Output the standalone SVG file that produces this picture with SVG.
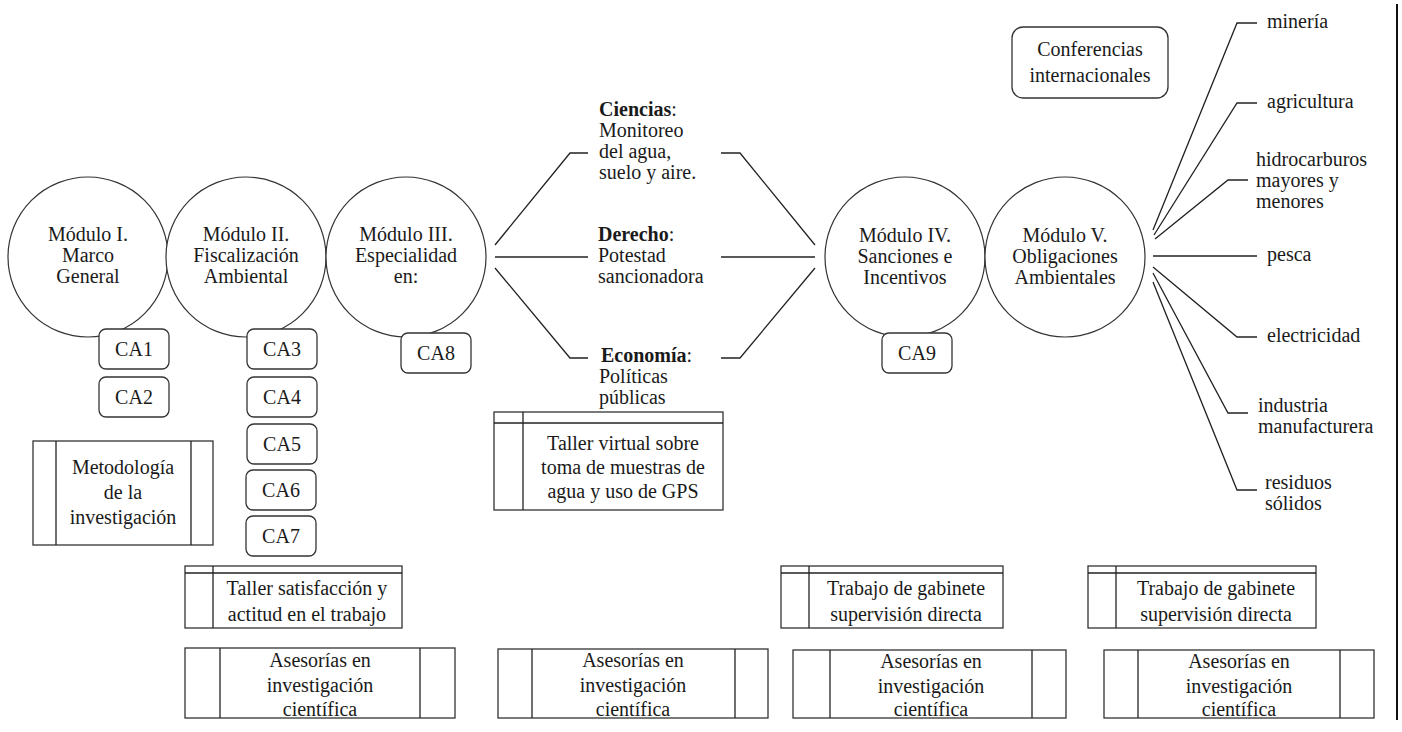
<svg xmlns="http://www.w3.org/2000/svg" width="1402" height="732" viewBox="0 0 1402 732">
<style>
text{font-family:"Liberation Serif","Times New Roman",serif;font-size:20px;fill:#1a1a1a}
.c{text-anchor:middle}
.b{font-weight:bold}
.circ{fill:#fff;stroke:#333;stroke-width:1.2}
.rb{fill:#fff;stroke:#333;stroke-width:1.3}
.sq{fill:#fff;stroke:#333;stroke-width:1.3}
.ln{fill:none;stroke:#222;stroke-width:1.3}
</style>
<rect width="1402" height="732" fill="#fff"/>

<g id="connectors">
<polyline class="ln" points="495,245 570,153 588,153"/>
<polyline class="ln" points="495,257 588,257"/>
<polyline class="ln" points="495,268 570,358 588,358"/>
<polyline class="ln" points="721,153 740,153 815,245"/>
<polyline class="ln" points="721,257 815,257"/>
<polyline class="ln" points="721,358 740,358 815,268"/>
<polyline class="ln" points="1153,230 1237,23 1257,23"/>
<polyline class="ln" points="1154,235 1237,103 1257,103"/>
<polyline class="ln" points="1155,239 1228,180 1248,180"/>
<polyline class="ln" points="1153,256 1257,256"/>
<polyline class="ln" points="1153,267 1237,337 1257,337"/>
<polyline class="ln" points="1153,273 1228,413 1248,413"/>
<polyline class="ln" points="1153,282 1237,490 1257,490"/>
<line x1="1397" y1="4" x2="1397" y2="720" stroke="#111" stroke-width="2"/>
</g>

<g id="mod1"><circle class="circ" cx="88" cy="257" r="80"/>
<text class="c" x="88" y="241">Módulo I.</text><text class="c" x="88" y="262">Marco</text><text class="c" x="88" y="283">General</text></g>
<g id="mod2"><circle class="circ" cx="246" cy="257" r="80"/>
<text class="c" x="246" y="241">Módulo II.</text><text class="c" x="246" y="262">Fiscalización</text><text class="c" x="246" y="283">Ambiental</text></g>
<g id="mod3"><circle class="circ" cx="406" cy="257" r="80"/>
<text class="c" x="406" y="241">Módulo III.</text><text class="c" x="406" y="262">Especialidad</text><text class="c" x="406" y="283">en:</text></g>
<g id="mod4"><circle class="circ" cx="905" cy="257" r="80"/>
<text class="c" x="905" y="242">Módulo IV.</text><text class="c" x="905" y="263">Sanciones e</text><text class="c" x="905" y="284">Incentivos</text></g>
<g id="mod5"><circle class="circ" cx="1065" cy="257" r="80"/>
<text class="c" x="1065" y="242">Módulo V.</text><text class="c" x="1065" y="263">Obligaciones</text><text class="c" x="1065" y="284">Ambientales</text></g>

<g id="ca1"><rect class="rb" x="99" y="329" width="70" height="40" rx="7"/><text class="c" x="134" y="356">CA1</text></g>
<g id="ca2"><rect class="rb" x="99" y="377" width="70" height="40" rx="7"/><text class="c" x="134" y="404">CA2</text></g>
<g id="ca3"><rect class="rb" x="247" y="329" width="70" height="40" rx="7"/><text class="c" x="282" y="356">CA3</text></g>
<g id="ca4"><rect class="rb" x="247" y="377" width="70" height="40" rx="7"/><text class="c" x="282" y="404">CA4</text></g>
<g id="ca5"><rect class="rb" x="247" y="424" width="70" height="40" rx="7"/><text class="c" x="282" y="451">CA5</text></g>
<g id="ca6"><rect class="rb" x="246" y="470" width="70" height="40" rx="7"/><text class="c" x="281" y="497">CA6</text></g>
<g id="ca7"><rect class="rb" x="246" y="516" width="70" height="40" rx="7"/><text class="c" x="281" y="543">CA7</text></g>
<g id="ca8"><rect class="rb" x="401" y="333" width="70" height="40" rx="7"/><text class="c" x="436" y="360">CA8</text></g>
<g id="ca9"><rect class="rb" x="882" y="333" width="70" height="40" rx="7"/><text class="c" x="917" y="360">CA9</text></g>

<g id="conf"><rect class="rb" x="1012" y="27" width="156" height="71" rx="11"/>
<text class="c" x="1090" y="56">Conferencias</text><text class="c" x="1090" y="82">internacionales</text></g>

<g id="metodo"><rect class="sq" x="33" y="441" width="180" height="104"/>
<line class="ln" x1="56" y1="441" x2="56" y2="545"/><line class="ln" x1="191" y1="441" x2="191" y2="545"/>
<text class="c" x="123" y="474">Metodología</text><text class="c" x="123" y="499">de la</text><text class="c" x="123" y="524">investigación</text></g>

<g id="ciencias"><text x="599" y="116"><tspan class="b">Ciencias</tspan>:</text>
<text x="599" y="137">Monitoreo</text><text x="599" y="158">del agua,</text><text x="599" y="179">suelo y aire.</text></g>
<g id="derecho"><text x="598" y="241"><tspan class="b">Derecho</tspan>:</text>
<text x="598" y="262">Potestad</text><text x="598" y="283">sancionadora</text></g>
<g id="economia"><text x="601" y="362"><tspan class="b">Economía</tspan>:</text>
<text x="599" y="383">Políticas</text><text x="599" y="404">públicas</text></g>

<g id="taller-virtual"><rect class="sq" x="494" y="412" width="229" height="98"/>
<line class="ln" x1="494" y1="423" x2="723" y2="423"/><line class="ln" x1="523" y1="412" x2="523" y2="510"/>
<text class="c" x="623" y="450">Taller virtual sobre</text><text class="c" x="623" y="474">toma de muestras de</text><text class="c" x="623" y="498">agua y uso de GPS</text></g>

<g id="taller-sat"><rect class="sq" x="185" y="566" width="217" height="62"/>
<line class="ln" x1="185" y1="573" x2="402" y2="573"/><line class="ln" x1="213" y1="566" x2="213" y2="628"/>
<text class="c" x="307" y="595">Taller satisfacción y</text><text class="c" x="307" y="621">actitud en el trabajo</text></g>

<g id="trabajo1"><rect class="sq" x="781" y="566" width="222" height="62"/>
<line class="ln" x1="781" y1="573" x2="1003" y2="573"/><line class="ln" x1="809" y1="566" x2="809" y2="628"/>
<text class="c" x="906" y="595">Trabajo de gabinete</text><text class="c" x="906" y="621">supervisión directa</text></g>
<g id="trabajo2"><rect class="sq" x="1088" y="566" width="228" height="62"/>
<line class="ln" x1="1088" y1="573" x2="1316" y2="573"/><line class="ln" x1="1116" y1="566" x2="1116" y2="628"/>
<text class="c" x="1216" y="595">Trabajo de gabinete</text><text class="c" x="1216" y="621">supervisión directa</text></g>

<g id="ases1"><rect class="sq" x="185" y="648" width="270" height="70"/>
<line class="ln" x1="220" y1="648" x2="220" y2="718"/><line class="ln" x1="420" y1="648" x2="420" y2="718"/>
<text class="c" x="320" y="667">Asesorías en</text><text class="c" x="320" y="692">investigación</text><text class="c" x="320" y="716">científica</text></g>
<g id="ases2"><rect class="sq" x="498" y="649" width="270" height="69"/>
<line class="ln" x1="532" y1="649" x2="532" y2="718"/><line class="ln" x1="735" y1="649" x2="735" y2="718"/>
<text class="c" x="633" y="667">Asesorías en</text><text class="c" x="633" y="692">investigación</text><text class="c" x="633" y="716">científica</text></g>
<g id="ases3"><rect class="sq" x="793" y="650" width="273" height="68"/>
<line class="ln" x1="830" y1="650" x2="830" y2="718"/><line class="ln" x1="1032" y1="650" x2="1032" y2="718"/>
<text class="c" x="931" y="668">Asesorías en</text><text class="c" x="931" y="693">investigación</text><text class="c" x="931" y="716">científica</text></g>
<g id="ases4"><rect class="sq" x="1104" y="650" width="270" height="68"/>
<line class="ln" x1="1138" y1="650" x2="1138" y2="718"/><line class="ln" x1="1340" y1="650" x2="1340" y2="718"/>
<text class="c" x="1239" y="668">Asesorías en</text><text class="c" x="1239" y="693">investigación</text><text class="c" x="1239" y="716">científica</text></g>

<g id="sectors">
<text x="1267" y="28">minería</text>
<text x="1267" y="108">agricultura</text>
<text x="1256" y="166">hidrocarburos</text><text x="1256" y="187">mayores y</text><text x="1256" y="208">menores</text>
<text x="1267" y="261">pesca</text>
<text x="1267" y="342">electricidad</text>
<text x="1258" y="412">industria</text><text x="1258" y="433">manufacturera</text>
<text x="1265" y="489">residuos</text><text x="1265" y="510">sólidos</text>
</g>
</svg>
